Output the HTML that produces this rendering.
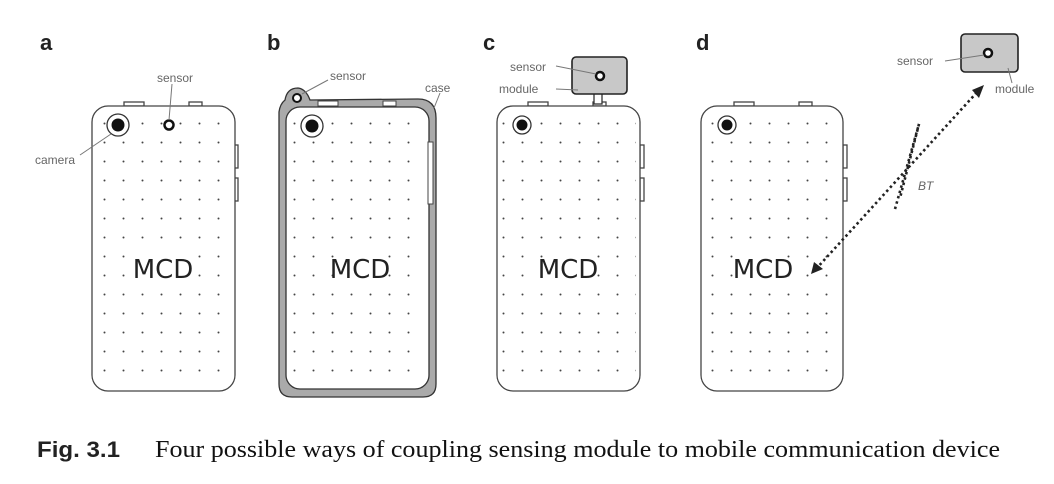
<!DOCTYPE html>
<html><head><meta charset="utf-8"><style>
html,body{margin:0;padding:0;background:#fff;width:1054px;height:484px;overflow:hidden}
svg{display:block}
.l{font-family:"Liberation Sans",sans-serif;font-size:12px;fill:#666}
.m{font-family:"DejaVu Sans","Liberation Sans",sans-serif;font-size:26px;fill:#222}
.h{font-family:"Liberation Sans",sans-serif;font-size:22px;font-weight:bold;fill:#222}
</style></head><body>
<svg width="1054" height="484" viewBox="0 0 1054 484" xmlns="http://www.w3.org/2000/svg">
<defs>
<pattern id="dots" x="0" y="0" width="19" height="19" patternUnits="userSpaceOnUse">
<circle cx="9.5" cy="9.5" r="1" fill="#444"/>
</pattern>
</defs>
<text class="h" x="40" y="50">a</text>
<text class="h" x="267" y="50">b</text>
<text class="h" x="483" y="50">c</text>
<text class="h" x="696" y="50">d</text>

<!-- phone a -->
<g fill="none" stroke="#444" stroke-width="1.3">
<rect x="124" y="102" width="20" height="4" fill="#fff"/>
<rect x="189" y="102" width="13" height="4" fill="#fff"/>
<rect x="234" y="145" width="4" height="23" fill="#fff"/>
<rect x="234" y="178" width="4" height="23" fill="#fff"/>
<rect x="92" y="106" width="143" height="285" rx="16" fill="#fff"/>
</g>
<rect x="96" y="112" width="135" height="274" fill="url(#dots)"/>
<circle cx="118" cy="125" r="11" fill="#fff" stroke="#333" stroke-width="1.3"/>
<circle cx="118" cy="125" r="6.5" fill="#111"/>
<circle cx="169" cy="125" r="4.5" fill="#fff" stroke="#111" stroke-width="2.5"/>
<line x1="169" y1="120" x2="172" y2="84" stroke="#777"/>
<line x1="111" y1="134" x2="80" y2="155" stroke="#777"/>
<rect x="140" y="254" width="46" height="30" fill="#fff"/>
<text class="m" x="163" y="278" text-anchor="middle">MCD</text>
<text class="l" x="157" y="82">sensor</text>
<text class="l" x="35" y="164">camera</text>

<!-- phone b -->
<path d="M285,100 Q287,88 298,88 Q306,89 310,100 L418,99 Q436,99 436,118 L436,384 Q436,397 423,397 L292,397 Q279,397 279,384 L279,112 Q280,104 285,100 Z" fill="#aaa" stroke="#333" stroke-width="1.3"/>
<rect x="286" y="107" width="143" height="282" rx="14" fill="#fff" stroke="#333" stroke-width="1.3"/>
<rect x="318" y="101" width="20" height="5" fill="#fff" stroke="#444"/>
<rect x="383" y="101" width="13" height="5" fill="#fff" stroke="#444"/>
<rect x="428" y="142" width="5" height="62" fill="#fff" stroke="#444"/>
<rect x="290" y="113" width="135" height="272" fill="url(#dots)"/>
<circle cx="297" cy="98" r="4" fill="#fff" stroke="#111" stroke-width="2"/>
<circle cx="312" cy="126" r="11" fill="#fff" stroke="#333" stroke-width="1.3"/>
<circle cx="312" cy="126" r="6.5" fill="#111"/>
<line x1="302" y1="94" x2="328" y2="80" stroke="#777"/>
<line x1="434" y1="108" x2="440" y2="93" stroke="#777"/>
<rect x="337" y="254" width="46" height="30" fill="#fff"/>
<text class="m" x="360" y="278" text-anchor="middle">MCD</text>
<text class="l" x="330" y="80">sensor</text>
<text class="l" x="425" y="92">case</text>

<!-- phone c -->
<g fill="none" stroke="#444" stroke-width="1.3">
<rect x="528" y="102" width="20" height="4" fill="#fff"/>
<rect x="593" y="102" width="13" height="4" fill="#fff"/>
<rect x="640" y="145" width="4" height="23" fill="#fff"/>
<rect x="640" y="178" width="4" height="23" fill="#fff"/>
<rect x="497" y="106" width="143" height="285" rx="16" fill="#fff"/>
</g>
<rect x="501" y="112" width="135" height="274" fill="url(#dots)"/>
<circle cx="522" cy="125" r="9" fill="#fff" stroke="#333" stroke-width="1.3"/>
<circle cx="522" cy="125" r="5.5" fill="#111"/>
<rect x="594" y="93" width="8" height="11" fill="#fff" stroke="#333" stroke-width="1.3"/>
<rect x="572" y="57" width="55" height="37" rx="4" fill="#c8c8c8" stroke="#222" stroke-width="1.6"/>
<circle cx="600" cy="76" r="4" fill="#fff" stroke="#111" stroke-width="2.5"/>
<line x1="556" y1="66" x2="596" y2="74" stroke="#777"/>
<line x1="556" y1="89" x2="578" y2="90" stroke="#777"/>
<rect x="545" y="254" width="46" height="30" fill="#fff"/>
<text class="m" x="568" y="278" text-anchor="middle">MCD</text>
<text class="l" x="510" y="71">sensor</text>
<text class="l" x="499" y="93">module</text>

<!-- phone d -->
<g fill="none" stroke="#444" stroke-width="1.3">
<rect x="734" y="102" width="20" height="4" fill="#fff"/>
<rect x="799" y="102" width="13" height="4" fill="#fff"/>
<rect x="843" y="145" width="4" height="23" fill="#fff"/>
<rect x="843" y="178" width="4" height="23" fill="#fff"/>
<rect x="701" y="106" width="142" height="285" rx="16" fill="#fff"/>
</g>
<rect x="705" y="112" width="134" height="274" fill="url(#dots)"/>
<circle cx="727" cy="125" r="9" fill="#fff" stroke="#333" stroke-width="1.3"/>
<circle cx="727" cy="125" r="5.5" fill="#111"/>
<rect x="740" y="254" width="46" height="30" fill="#fff"/>
<text class="m" x="763" y="278" text-anchor="middle">MCD</text>
<rect x="961" y="34" width="57" height="38" rx="4" fill="#c8c8c8" stroke="#222" stroke-width="1.6"/>
<circle cx="988" cy="53" r="4" fill="#fff" stroke="#111" stroke-width="2.5"/>
<line x1="945" y1="61" x2="984" y2="55" stroke="#777"/>
<line x1="1008" y1="68" x2="1012" y2="83" stroke="#777"/>
<text class="l" x="897" y="65">sensor</text>
<text class="l" x="995" y="93">module</text>
<g stroke="#222" stroke-width="2.6" stroke-dasharray="2.5,3" fill="none">
<line x1="816" y1="269" x2="979" y2="90"/>
<line x1="895" y1="209" x2="919" y2="124"/>
<line x1="919" y1="124" x2="900" y2="198"/>
</g>
<path d="M811,274 L814,262 L823,269 Z" fill="#222"/>
<path d="M984,85 L972,90 L979,98 Z" fill="#222"/>
<text class="l" x="918" y="190" style="font-style:italic">BT</text>

<!-- caption -->
<text x="37" y="457" font-family="Liberation Sans,sans-serif" font-weight="bold" font-size="22" fill="#222" textLength="83" lengthAdjust="spacingAndGlyphs">Fig. 3.1</text>
<text x="155" y="457" font-family="Liberation Serif,serif" font-size="24" fill="#111" textLength="845" lengthAdjust="spacingAndGlyphs">Four possible ways of coupling sensing module to mobile communication device</text>
</svg>
</body></html>
